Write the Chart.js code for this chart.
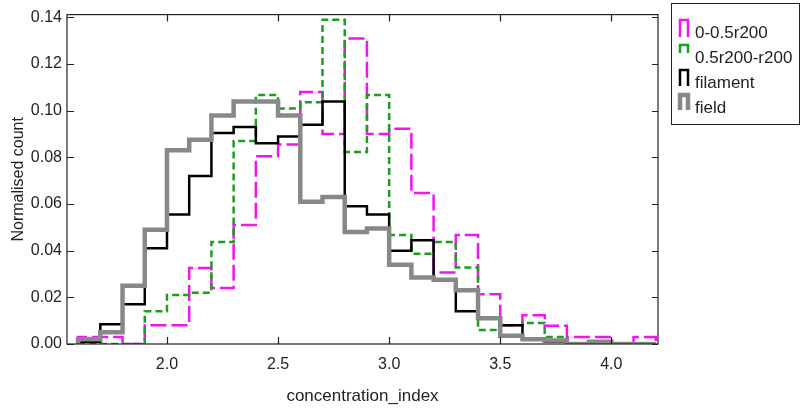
<!DOCTYPE html>
<html>
<head>
<meta charset="utf-8">
<title>concentration_index</title>
<script src="https://cdn.jsdelivr.net/npm/chart.js@4.4.1/dist/chart.umd.min.js"></script>
<style>
    html, body { margin: 0; padding: 0; background: #fff; }
</style>
</head>
<body>
<canvas id="histChart" width="803" height="412"></canvas>
<script>
// ------------------ DONNEES ------------------
// left edge of each histogram bin (width 0.1)
const binLeft = [1.6, 1.7, 1.8, 1.9, 2.0, 2.1, 2.2, 2.3, 2.4, 2.5, 2.6, 2.7, 2.8,
                 2.9, 3.0, 3.1, 3.2, 3.3, 3.4, 3.5, 3.6, 3.7, 3.8, 3.9, 4.0, 4.1];
const binWidth = 0.1;

const seriesNames = ['0-0.5r200', '0.5r200-r200', 'filament', 'field'];

const inner    = [0.003, 0.003, 0, 0.008, 0.008, 0.0326, 0.024, 0.051, 0.0805, 0.0855, 0.108, 0.090, 0.131,
                  0.090, 0.0923, 0.0647, 0.0306, 0.0467, 0.0213, 0.008, 0.0123, 0.0078, 0.003, 0.003, 0, 0.003];
const outer    = [0, 0, 0, 0.014, 0.021, 0.022, 0.0437, 0.087, 0.1067, 0.101, 0.1036, 0.139, 0.0823,
                  0.1067, 0.0467, 0.0387, 0.0437, 0.0328, 0.006, 0.008, 0.009, 0.003, 0, 0, 0, 0];
const filament = [0.001, 0.0085, 0.017, 0.041, 0.0555, 0.072, 0.0905, 0.093, 0.086, 0.089, 0.094, 0.104, 0.059,
                  0.0555, 0.040, 0.0445, 0.0275, 0.014, 0.011, 0.008, 0.002, 0.001, 0, 0, 0, 0];
const field    = [0.002, 0.005, 0.025, 0.049, 0.083, 0.0875, 0.098, 0.104, 0.104, 0.098, 0.061, 0.063, 0.048,
                  0.0495, 0.034, 0.0285, 0.0275, 0.023, 0.011, 0.0035, 0.002, 0.0015, 0, 0.001, 0, 0];

const xTicks = [2.0, 2.5, 3.0, 3.5, 4.0];
const yTicks = [0, 0.02, 0.04, 0.06, 0.08, 0.10, 0.12, 0.14];

const FONT = "'Liberation Sans', Arial, sans-serif";
const TEXT = '#222';

// contour en escalier (stepped 'before' = horizontal puis vertical)
function stepPoints(values) {
    const pts = [{ x: binLeft[0], y: 0 }];
    values.forEach((v, i) => {
        pts.push({ x: binLeft[i], y: v });
    });
    pts.push({ x: binLeft[binLeft.length - 1] + binWidth, y: values[values.length - 1] });
    pts.push({ x: binLeft[binLeft.length - 1] + binWidth, y: 0 });
    return pts;
}

// cadre + petites graduations vers l'interieur sur les 4 cotes
const frameTicks = {
    id: 'frameTicks',
    afterDatasetsDraw(chart) {
        const { ctx, chartArea: a, scales: { x, y } } = chart;
        ctx.save();
        ctx.strokeStyle = TEXT;
        ctx.lineWidth = 1.2;
        ctx.setLineDash([]);
        ctx.strokeRect(a.left, a.top, a.right - a.left, a.bottom - a.top);
        ctx.beginPath();
        xTicks.forEach(v => {
            const px = Math.round(x.getPixelForValue(v)) + 0.5;
            ctx.moveTo(px, a.bottom); ctx.lineTo(px, a.bottom - 7);
            ctx.moveTo(px, a.top); ctx.lineTo(px, a.top + 7);
        });
        yTicks.forEach(v => {
            const py = Math.round(y.getPixelForValue(v)) + 0.5;
            ctx.moveTo(a.left, py); ctx.lineTo(a.left + 7, py);
            ctx.moveTo(a.right, py); ctx.lineTo(a.right - 6, py);
        });
        ctx.stroke();
        ctx.restore();
    }
};

// legende encadree avec un petit symbole "marche" pour chaque serie
const legendLegs = [17, 8, 16, 15];   // hauteur du symbole de chaque ligne
const boxLegend = {
    id: 'boxLegend',
    afterDraw(chart) {
        const ctx = chart.ctx;
        ctx.save();
        ctx.strokeStyle = TEXT;
        ctx.lineWidth = 1;
        ctx.strokeRect(671.5, 3.5, 128, 121);
        ctx.font = '17px ' + FONT;
        ctx.textBaseline = 'alphabetic';
        ctx.fillStyle = TEXT;
        seriesNames.forEach((name, i) => {
            const ds = chart.data.datasets[i];
            const base = 37 + i * 25;
            const topY = base - 17;
            ctx.save();
            ctx.strokeStyle = ds.borderColor;
            ctx.lineWidth = ds.borderWidth;
            ctx.lineJoin = 'miter';
            ctx.beginPath();
            ctx.moveTo(680, topY + legendLegs[i]);
            ctx.lineTo(680, topY);
            ctx.lineTo(688, topY);
            ctx.lineTo(688, topY + legendLegs[i]);
            ctx.stroke();
            ctx.restore();
            ctx.fillText(name, 695, base + 1);
        });
        ctx.restore();
    }
};

const ctx = document.getElementById('histChart').getContext('2d');
new Chart(ctx, {
    type: 'line',
    data: {
        datasets: [
            { label: seriesNames[0], data: stepPoints(inner),    borderColor: '#f014f0', borderWidth: 2.5, borderDash: [16, 5], order: 4 },
            { label: seriesNames[1], data: stepPoints(outer),    borderColor: '#1e9e1e', borderWidth: 2.5, borderDash: [7, 4],  order: 3 },
            { label: seriesNames[2], data: stepPoints(filament), borderColor: '#000000', borderWidth: 2.5, order: 2 },
            { label: seriesNames[3], data: stepPoints(field),    borderColor: '#888888', borderWidth: 4.5, order: 1 }
        ]
    },
    options: {
        responsive: false,
        animation: false,
        layout: { padding: { top: 5, right: 145, left: 0, bottom: 0 } },
        datasets: {
            line: { stepped: 'before', fill: false, pointRadius: 0, clip: 0,
                    borderJoinStyle: 'miter', borderCapStyle: 'butt' }
        },
        plugins: {
            legend: { display: false },
            tooltip: { enabled: false }
        },
        scales: {
            x: {
                type: 'linear',
                min: 1.55,
                max: 4.21,
                afterFit: s => { s.height = 68; },
                afterBuildTicks: s => { s.ticks = xTicks.map(v => ({ value: v })); },
                grid: { display: false, drawTicks: false },
                border: { display: false },
                ticks: { padding: 11, color: TEXT, font: { family: FONT, size: 16 },
                         maxRotation: 0, callback: v => Number(v).toFixed(1) },
                title: { display: true, text: 'concentration_index', color: TEXT,
                         font: { family: FONT, size: 17 }, padding: { top: 0, bottom: 5 } }
            },
            y: {
                min: 0,
                max: 0.1412,
                afterFit: s => { s.width = 67; },
                afterBuildTicks: s => { s.ticks = yTicks.map(v => ({ value: v })); },
                grid: { display: false, drawTicks: false },
                border: { display: false },
                ticks: { padding: 5, color: TEXT, font: { family: FONT, size: 16 },
                         callback: v => Number(v).toFixed(2) },
                title: { display: true, text: 'Normalised count', color: TEXT,
                         font: { family: FONT, size: 16 }, padding: { top: 9, bottom: 0 } }
            }
        }
    },
    plugins: [frameTicks, boxLegend]
});
</script>
</body>
</html>
